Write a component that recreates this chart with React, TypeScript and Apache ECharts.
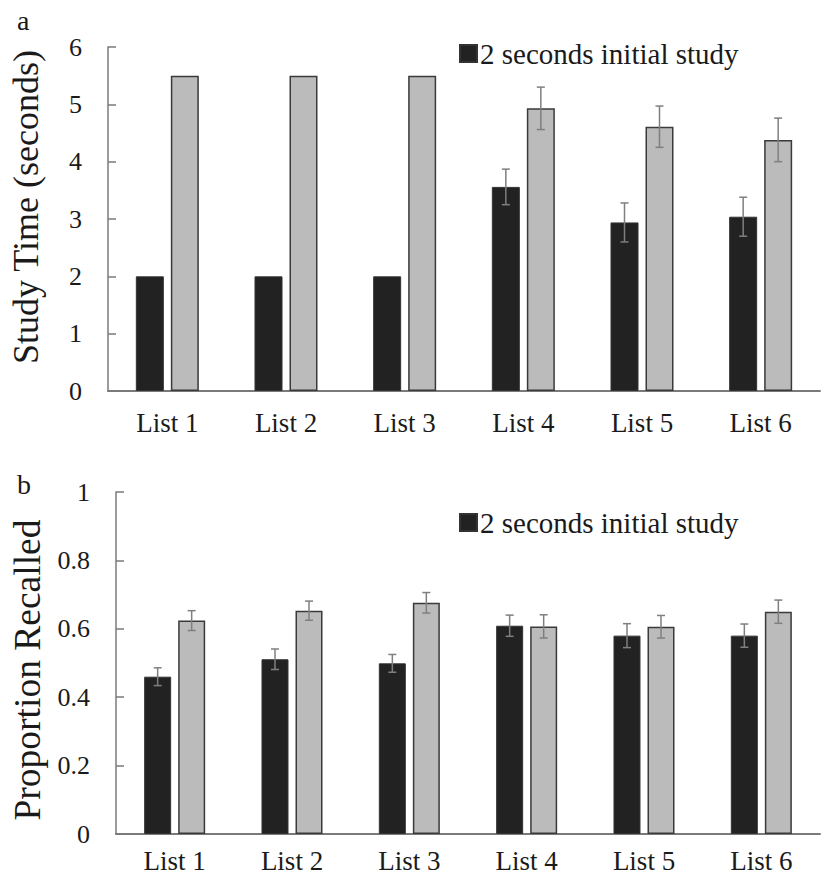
import React, { useEffect, useRef } from "react";
import * as echarts from "echarts";

const categories = ["List 1", "List 2", "List 3", "List 4", "List 5", "List 6"];
const legendLabel = "2 seconds initial study";
const comparisonLabel = "comparison";

// Panel a: study time (seconds)
const studyDark = [2, 2, 2, 3.56, 2.94, 3.04];
const studyDarkErr = [0, 0, 0, 0.31, 0.34, 0.34];
const studyGray = [5.5, 5.5, 5.5, 4.93, 4.61, 4.38];
const studyGrayErr = [0, 0, 0, 0.37, 0.36, 0.38];
const studyTicks = [0, 1, 2, 3, 4, 5, 6];

// Panel b: proportion recalled
const recallDark = [0.46, 0.511, 0.499, 0.609, 0.58, 0.58];
const recallDarkErr = [0.026, 0.03, 0.026, 0.031, 0.035, 0.034];
const recallGray = [0.624, 0.653, 0.676, 0.607, 0.606, 0.65];
const recallGrayErr = [0.029, 0.028, 0.03, 0.034, 0.033, 0.034];
const recallTicks = [0, 0.2, 0.4, 0.6, 0.8, 1];

const FONT = "'Liberation Serif', 'Times New Roman', Times, serif";
const DARK = "#222222";
const GRAY = "#bbbbbb";
const BORDER = "#3a3a3a";
const AXIS = "#7a7a7a";
const ERR = "#7f7f7f";
const BAR_W = 28;
const BAR_GAP = 7;

function errData(vals: number[], errs: number[]) {
  const out: number[][] = [];
  vals.forEach((v, i) => {
    if (errs[i] > 0) out.push([i, v - errs[i], v + errs[i]]);
  });
  return out;
}

function errRenderer(offset: number) {
  return (params: any, api: any) => {
    const i = api.value(0);
    const lo = api.coord([i, api.value(1)]);
    const hi = api.coord([i, api.value(2)]);
    const x = lo[0] + offset;
    const cap = 4;
    const style = { stroke: ERR, lineWidth: 1.5 };
    return {
      type: "group",
      children: [
        { type: "line", shape: { x1: x, y1: lo[1], x2: x, y2: hi[1] }, style },
        { type: "line", shape: { x1: x - cap, y1: lo[1], x2: x + cap, y2: lo[1] }, style },
        { type: "line", shape: { x1: x - cap, y1: hi[1], x2: x + cap, y2: hi[1] }, style },
      ],
    };
  };
}

export default function App() {
  const ref = useRef<HTMLDivElement>(null);
  useEffect(() => {
    if (!ref.current) return;
    const chart = echarts.init(ref.current, null, { renderer: "svg" });
    const off = (BAR_W + BAR_GAP) / 2;
    const xAxisBase = (margin: number) => ({
      type: "category",
      data: categories,
      axisLine: { show: true, lineStyle: { color: AXIS, width: 2 } },
      axisTick: { show: false },
      axisLabel: { fontFamily: FONT, fontSize: 27, color: "#1a1a1a", margin },
      splitLine: { show: false },
    });
    const yAxisBase = (
      name: string,
      min: number,
      max: number,
      interval: number,
      gap: number,
      nameSize: number,
      namePad: number[]
    ) => ({
      type: "value",
      min,
      max,
      interval,
      name,
      nameLocation: "middle",
      nameRotate: 90,
      nameGap: gap,
      nameTextStyle: { fontFamily: FONT, fontSize: nameSize, color: "#1a1a1a", padding: namePad },
      axisLine: { show: true, lineStyle: { color: AXIS, width: 1.5 } },
      axisTick: { show: true, inside: true, length: 8, lineStyle: { color: AXIS, width: 1.5 } },
      axisLabel: {
        fontFamily: FONT,
        fontSize: 26,
        color: "#1a1a1a",
        margin: 26,
        formatter: (v: number) => String(parseFloat(v.toFixed(1))),
      },
      splitLine: { show: false },
    });
    const barStyle = (color: string) => ({ color, borderColor: BORDER, borderWidth: 1.5 });
    const legendBase = (top: number) => ({
      data: [legendLabel],
      left: 454,
      top,
      icon: "rect",
      itemWidth: 17,
      itemHeight: 17,
      itemGap: 4,
      selectedMode: false,
      textStyle: { fontFamily: FONT, fontSize: 29, color: "#1a1a1a", padding: [0, 0, 0, -2] },
    });

    chart.setOption({
      animation: false,
      backgroundColor: "#ffffff",
      grid: [
        { left: 107, top: 47, width: 713, height: 344 },
        { left: 113, top: 492, width: 707, height: 342 },
      ],
      xAxis: [
        { ...xAxisBase(18), gridIndex: 0 },
        { ...xAxisBase(13), gridIndex: 1 },
      ],
      yAxis: [
        {
          ...yAxisBase("Study Time (seconds)", studyTicks[0], studyTicks[studyTicks.length - 1], 1, 64, 36, [0, 0, 0, 24]),
          gridIndex: 0,
        },
        {
          ...yAxisBase("Proportion Recalled", recallTicks[0], recallTicks[recallTicks.length - 1], 0.2, 70, 37.5, [0, 14, 0, 0]),
          gridIndex: 1,
        },
      ],
      legend: [legendBase(34), legendBase(503)],
      graphic: [
        { type: "text", left: 17, top: 6, style: { text: "a", fontFamily: FONT, fontSize: 28, fill: "#1a1a1a" } },
        { type: "text", left: 17, top: 470, style: { text: "b", fontFamily: FONT, fontSize: 28, fill: "#1a1a1a" } },
      ],
      series: [
        {
          name: legendLabel,
          type: "bar",
          xAxisIndex: 0,
          yAxisIndex: 0,
          data: studyDark,
          barWidth: BAR_W,
          barGap: "25%",
          itemStyle: { ...barStyle(DARK), borderColor: "#333333", borderWidth: 1 },
        },
        {
          name: comparisonLabel,
          type: "bar",
          xAxisIndex: 0,
          yAxisIndex: 0,
          data: studyGray,
          barWidth: BAR_W,
          barGap: "25%",
          itemStyle: barStyle(GRAY),
        },
        {
          name: legendLabel,
          type: "bar",
          xAxisIndex: 1,
          yAxisIndex: 1,
          data: recallDark,
          barWidth: 27,
          barGap: "26%",
          itemStyle: { ...barStyle(DARK), borderColor: "#333333", borderWidth: 1 },
        },
        {
          name: comparisonLabel,
          type: "bar",
          xAxisIndex: 1,
          yAxisIndex: 1,
          data: recallGray,
          barWidth: 27,
          barGap: "26%",
          itemStyle: barStyle(GRAY),
        },
        {
          type: "custom",
          xAxisIndex: 0,
          yAxisIndex: 0,
          z: 5,
          data: errData(studyDark, studyDarkErr),
          encode: { x: 0, y: [1, 2] },
          renderItem: errRenderer(-off),
        },
        {
          type: "custom",
          xAxisIndex: 0,
          yAxisIndex: 0,
          z: 5,
          data: errData(studyGray, studyGrayErr),
          encode: { x: 0, y: [1, 2] },
          renderItem: errRenderer(off),
        },
        {
          type: "custom",
          xAxisIndex: 1,
          yAxisIndex: 1,
          z: 5,
          data: errData(recallDark, recallDarkErr),
          encode: { x: 0, y: [1, 2] },
          renderItem: errRenderer(-(27 + 7) / 2),
        },
        {
          type: "custom",
          xAxisIndex: 1,
          yAxisIndex: 1,
          z: 5,
          data: errData(recallGray, recallGrayErr),
          encode: { x: 0, y: [1, 2] },
          renderItem: errRenderer((27 + 7) / 2),
        },
      ],
    });
    return () => chart.dispose();
  }, []);
  return (
    <div
      ref={ref}
      style={{ position: "absolute", left: 0, top: 0, width: 826, height: 880, background: "#fff" }}
    />
  );
}
